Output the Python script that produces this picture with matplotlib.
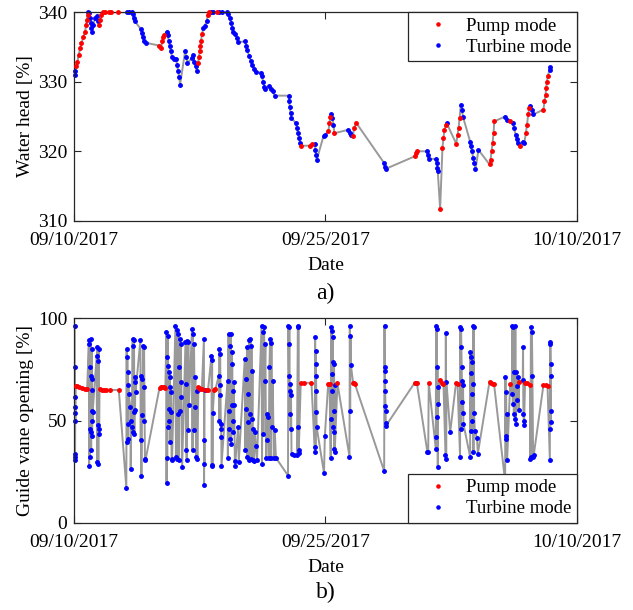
import numpy as np
import matplotlib
matplotlib.use("Agg")
import matplotlib.pyplot as plt
import matplotlib.dates as mdates
from datetime import datetime

# Andmed: päevad alates 09/10/2017, väärtus, režiim (P = pump, T = turbiin)
algus = datetime(2017, 9, 10)

# a) Water head [%]
paevad_a = [0.04, 0.04, 0.12, 0.20, 0.28, 0.36, 0.44, 0.56, 0.66, 0.72, 0.76, 0.82,
            0.86, 0.92, 0.96, 1.00, 1.03, 1.07, 1.15, 1.25, 1.35, 1.43,
            1.49, 1.55, 1.61, 1.71, 1.85, 2.11, 2.19, 2.65,
            3.14, 3.30, 3.44, 3.50, 3.56, 3.62, 3.98, 4.04, 4.10, 4.18, 4.28,
            5.09, 5.19, 5.27, 5.33, 5.39,
            5.53, 5.59, 5.65, 5.71, 5.77, 5.85, 5.97, 6.09, 6.15, 6.21, 6.27, 6.33,
            6.63, 6.69, 6.77, 7.04, 7.12, 7.18, 7.26, 7.32,
            7.40, 7.46, 7.50, 7.54, 7.58, 7.64,
            7.72, 7.80, 7.92, 7.98, 8.04, 8.16, 8.32, 8.52, 8.64,
            8.82, 9.11, 9.19, 9.29, 9.37, 9.45, 9.51, 9.61, 9.71, 9.81,
            10.21, 10.27, 10.35, 10.45, 10.55, 10.65, 10.77, 10.87,
            11.14, 11.22, 11.28, 11.36, 11.42, 11.66, 11.76, 11.86, 11.98,
            12.80, 12.84, 12.88, 12.92, 12.97, 13.25, 13.31, 13.37, 13.43, 13.49,
            13.55, 14.09, 14.21,
            14.37, 14.41, 14.45, 14.49, 14.89, 15.00,
            15.18, 15.24, 15.30, 15.36, 15.42, 15.48, 15.54,
            16.38, 16.48, 16.56, 16.64, 16.72, 16.84,
            18.51, 18.57, 18.63, 20.36, 20.42, 20.46, 21.06, 21.10, 21.16,
            21.61, 21.65, 21.69, 21.71, 21.85, 21.99, 22.05, 22.11, 22.19, 22.25,
            22.81, 22.89, 22.95, 23.01, 23.09, 23.15, 23.21, 23.64, 23.68, 23.74,
            23.84, 23.90, 23.96, 24.14, 24.80, 24.86, 24.92, 24.98, 25.04, 25.08,
            25.73, 25.83, 26.03, 26.19, 26.27, 26.35, 26.43, 26.47, 26.59,
            26.79, 26.87, 26.97, 27.03, 27.11, 27.17, 27.23, 27.32, 27.42,
            28.02, 28.08, 28.14, 28.18, 28.22, 28.28, 28.38, 28.42]
nivel_a = [331.0, 331.5, 332.2, 332.9, 333.9, 334.8, 335.5, 336.5, 337.2, 338.2, 338.9, 339.6,
           340.0, 339.9, 339.1, 338.4, 337.7, 337.2, 338.2, 339.1, 339.4, 338.7,
           338.2, 338.9, 339.6, 340.0, 340.0, 340.0, 340.0, 340.0,
           340.0, 340.0, 340.0, 339.8, 339.1, 338.7, 337.6, 337.0, 336.4, 335.9, 335.6,
           335.2, 334.8, 335.8, 336.5, 336.7,
           337.2, 336.7, 335.9, 335.1, 334.4, 333.6, 333.3, 333.2, 332.4, 331.6, 330.7, 329.6,
           334.4, 333.6, 332.7, 333.4, 333.9, 332.9, 332.2, 331.5,
           332.7, 333.6, 334.4, 335.1, 335.9, 336.9,
           337.7, 338.0, 338.8, 339.6, 340.0, 340.0, 340.0, 340.0, 340.0,
           340.0, 340.0, 339.8, 339.1, 338.5, 337.7, 337.1, 336.9, 336.3, 335.7,
           335.8, 335.2, 334.5, 333.7, 333.0, 332.4, 331.8, 331.4,
           331.3, 330.8, 330.0, 329.3, 328.9, 329.4, 329.0, 328.6, 328.0,
           328.0, 327.2, 326.4, 325.5, 324.8, 324.0, 323.3, 322.6, 321.9, 321.2,
           320.8, 320.8, 321.0,
           321.0, 320.2, 319.5, 318.8, 322.2, 322.4,
           322.9, 324.0, 324.9, 325.4, 324.8, 323.8, 322.6,
           323.1, 322.6, 322.4, 322.2, 323.3, 324.1,
           318.3, 317.8, 317.5, 319.3, 319.8, 320.0, 320.0, 319.5, 318.9,
           318.9, 318.3, 317.6, 317.1, 311.7, 320.5, 321.9, 323.1, 323.8, 324.0,
           321.1, 322.4, 323.3, 324.8, 326.7, 326.0, 325.0, 321.4, 320.7, 320.0,
           319.0, 318.3, 317.4, 320.2, 318.1, 318.8, 320.0, 321.2, 322.6, 324.3,
           325.0, 324.5, 324.3, 324.1, 323.3, 322.4, 321.7, 321.2, 320.7,
           321.4, 321.2, 322.6, 323.8, 325.3, 326.2, 326.5, 326.0, 325.3,
           326.0, 327.2, 328.1, 329.1, 330.0, 330.8, 331.7, 332.1]
modo_a = list("TTPPPPPPPPPP" "TTTTTTTTTT" "PPPPPPPP" "TTTTTTTTTTT" "PPPPP"
              "TTTTTTTTTTTT" "TTTTTTTT" "PPPPPP" "TTTPPTTPT" "TTTTTTTTTT"
              "TTTTTTTT" "TTTTTTTTT" "TTTTTTTTTT" "PPP" "TTTTTT" "PPPTTTP"
              "TTTPPP" "TTTPPPTTT" "TTTTPPPPPT" "PPPPTTTTTT" "TTTTPPPPPP"
              "TTPTTTTTP" "TTPPPPTTT" "PPPPPPTT")

# b) Guide vane opening [%]
paevad_b = [0.04, 0.04, 0.05, 0.05, 0.06, 0.06, 0.07, 0.07, 0.08,
            0.10, 0.18, 0.32, 0.48, 0.64, 0.78,
            0.88, 0.90, 0.92, 0.94, 0.96, 0.98, 1.00, 1.02, 1.03, 1.04, 1.05, 1.06, 1.07, 1.08, 1.09, 1.10, 1.11,
            1.35, 1.37, 1.39, 1.41, 1.43, 1.45, 1.47, 1.49, 1.50,
            1.52, 1.65, 1.78, 1.92, 2.17, 2.67,
            3.12, 3.14, 3.16, 3.18, 3.20, 3.21, 3.22, 3.24, 3.26,
            3.36, 3.38, 3.42, 3.45, 3.50, 3.52, 3.54, 3.56, 3.58, 3.60, 3.62, 3.64, 3.66, 3.67,
            3.96, 3.98, 4.00, 4.02, 4.05, 4.08, 4.12, 4.15, 4.18, 4.20, 4.23, 4.26,
            5.10, 5.18, 5.25, 5.35, 5.45,
            5.51, 5.52, 5.54, 5.56, 5.58, 5.60, 5.62, 5.64, 5.66, 5.68, 5.70, 5.72, 5.74, 5.76, 5.79, 5.82, 5.85,
            6.05, 6.08, 6.12, 6.15, 6.18, 6.20, 6.24, 6.27, 6.30, 6.33, 6.36, 6.38, 6.40, 6.45,
            6.65, 6.68, 6.70, 6.72, 6.76, 6.79, 6.82, 6.85,
            7.04, 7.07, 7.10, 7.13, 7.16, 7.20, 7.24, 7.28, 7.32, 7.36,
            7.42, 7.48, 7.54, 7.63,
            7.75, 7.76, 7.77, 7.78, 7.79,
            7.90, 8.00,
            8.20, 8.22, 8.24, 8.26, 8.28,
            8.36, 8.44,
            8.64, 8.66, 8.68, 8.70, 8.72, 8.74, 8.76, 8.78, 8.79, 8.80,
            9.16, 9.18, 9.22, 9.24, 9.27, 9.30, 9.33, 9.36, 9.38, 9.40, 9.42, 9.44, 9.46, 9.48, 9.50, 9.52, 9.56, 9.60, 9.63,
            9.79, 9.83,
            10.19, 10.22, 10.26, 10.29, 10.32, 10.35, 10.38, 10.41, 10.44, 10.47, 10.50, 10.53, 10.56, 10.59, 10.62,
            10.65, 10.68, 10.71, 10.74, 10.80, 10.85, 10.92,
            11.19, 11.22, 11.26, 11.30, 11.34, 11.38, 11.42, 11.46, 11.50, 11.54, 11.58, 11.62, 11.66, 11.70, 11.74,
            11.78, 11.82, 11.86, 11.92, 11.98, 12.05,
            12.77, 12.79, 12.81, 12.83, 12.85, 12.87, 12.89, 12.91, 12.93, 12.95, 12.98,
            13.10, 13.30, 13.36, 13.38, 13.39, 13.40, 13.41,
            13.53, 13.70, 14.17,
            14.37, 14.39, 14.41, 14.43, 14.44, 14.45, 14.46, 14.47, 14.48,
            14.92, 14.97,
            15.17, 15.25,
            15.32, 15.34, 15.36, 15.38, 15.40, 15.42, 15.44, 15.46, 15.48, 15.50, 15.52, 15.53, 15.54, 15.55, 15.56,
            15.72,
            16.44, 16.46, 16.48, 16.50, 16.52,
            16.66, 16.72, 16.76,
            18.51, 18.53, 18.54, 18.55, 18.56, 18.57, 18.58, 18.59, 18.60, 18.61,
            20.34, 20.40, 20.46,
            21.09, 21.14, 21.17,
            21.59, 21.61, 21.63, 21.65, 21.67, 21.69, 21.71, 21.73, 21.75,
            21.83, 21.95, 22.05,
            22.17, 22.19, 22.21, 22.23,
            22.45,
            22.80, 22.89,
            23.04, 23.06, 23.08, 23.10, 23.12, 23.14, 23.16, 23.18, 23.20, 23.22, 23.24,
            23.64, 23.66, 23.68, 23.70, 23.72, 23.74, 23.76, 23.78, 23.80, 23.82, 23.84, 23.86, 23.88, 23.92, 24.05, 24.10,
            24.80, 24.90, 25.00, 25.07,
            25.73, 25.75, 25.77, 25.79, 25.81, 25.83, 25.85,
            26.03,
            26.13, 26.16, 26.19, 26.22, 26.25, 26.28, 26.31, 26.34, 26.37, 26.40, 26.43, 26.46, 26.50, 26.53,
            26.57,
            26.78, 26.80, 26.82, 26.84, 26.86,
            26.92, 27.05, 27.22,
            27.24, 27.27, 27.30, 27.33, 27.36, 27.40, 27.44,
            28.02, 28.14, 28.26,
            28.40, 28.41, 28.42, 28.43, 28.44, 28.45, 28.46, 28.47]
ava_b = [96.3, 30.5, 76.4, 32.4, 61.5, 33.7, 56.6, 49.7, 53.6,
         66.7, 66.7, 66.3, 66.0, 65.7, 65.4,
         87.5, 28.0, 89.2, 32.4, 76.1, 45.9, 90.0, 35.4, 72.0, 44.3, 85.0, 54.9, 70.4, 42.7, 65.0, 50.0, 54.1,
         81.8, 29.7, 85.9, 47.6, 79.4, 28.9, 85.1, 45.9, 43.5,
         65.4, 65.2, 65.0, 65.0, 65.0, 65.0,
         17.1, 85.1, 39.4, 81.0, 48.4, 73.7, 41.1, 67.2, 63.0,
         56.6, 26.4, 50.0, 46.8, 90.0, 44.3, 86.7, 54.1, 89.5, 43.5, 71.2, 55.0, 68.8, 63.9,
         89.5, 40.3, 72.0, 22.8, 70.4, 52.5, 86.7, 50.0, 85.9, 66.3, 31.3, 30.5,
         66.0, 66.3, 66.5, 66.3, 66.0,
         93.2, 19.4, 81.0, 31.8, 91.6, 46.8, 76.9, 55.7, 74.0, 50.0, 71.2, 39.4, 66.3, 54.0, 63.9, 30.5, 31.3,
         96.5, 32.1, 94.1, 31.3, 92.4, 53.3, 76.1, 30.5, 90.0, 54.9, 87.5, 61.4, 68.8, 27.2,
         88.3, 35.4, 68.0, 30.5, 89.0, 45.2, 88.3, 57.4,
         94.9, 35.4, 92.4, 45.2, 87.5, 56.6, 71.2, 32.0, 64.7, 31.3,
         66.3, 66.0, 65.5, 65.5,
         90.0, 18.7, 40.3, 28.9, 65.0,
         65.2, 65.2,
         81.8, 28.5, 79.7, 28.0, 53.8,
         65.2, 65.4,
         72.0, 50.0, 85.1, 67.2, 82.6, 62.3, 48.4, 46.0, 41.9, 28.0,
         69.6, 31.8, 92.4, 45.9, 54.9, 86.7, 41.1, 92.4, 38.6, 83.5, 57.4, 77.8, 44.3, 64.7, 50.0, 69.0, 57.4, 28.0, 30.0,
         46.8, 29.6,
         80.2, 35.4, 70.4, 55.7, 85.9, 32.1, 63.1, 49.2, 89.2, 30.5, 53.3, 90.0, 31.0, 86.7, 51.0,
         74.5, 30.5, 46.0, 30.0, 44.3, 37.8, 30.5,
         96.5, 28.9, 93.2, 43.5, 96.0, 69.6, 87.5, 31.8, 53.3, 40.3, 52.0, 31.8, 76.1, 90.0, 31.5,
         88.0, 46.8, 69.6, 31.8, 45.2, 31.8,
         23.1, 96.5, 87.5, 72.0, 96.0, 64.7, 53.3, 68.0, 46.0, 62.3, 33.7,
         33.0, 33.0, 96.5, 46.8, 96.0, 35.4, 34.0,
         68.5, 68.5, 68.5,
         34.6, 90.8, 37.0, 84.3, 77.8, 72.0, 64.7, 54.1, 46.8,
         24.3, 42.7,
         68.1, 68.0,
         31.8, 96.0, 50.9, 93.7, 72.9, 64.7, 91.1, 46.8, 78.6, 44.3, 77.8, 54.9, 36.2, 67.2, 34.5,
         68.3,
         32.4, 96.5, 54.6, 91.6, 77.3,
         68.3, 68.3, 68.0,
         25.3, 96.5, 76.1, 74.5, 69.6, 64.4, 56.9, 54.6, 48.7, 47.4,
         68.6, 68.6, 68.4,
         34.6, 34.6, 68.5,
         36.2, 96.5, 42.2, 94.9, 51.7, 76.1, 27.2, 66.3, 57.9,
         69.9, 68.5, 67.9,
         33.4, 92.7, 31.3, 68.8,
         44.3,
         68.5, 68.0,
         32.1, 96.0, 46.0, 95.0, 85.9, 76.4, 59.0, 69.6, 53.6, 67.2, 48.4,
         32.4, 83.5, 44.8, 81.0, 73.2, 50.0, 78.6, 63.1, 68.0, 96.5, 34.6, 96.0, 53.8, 44.8, 41.6, 33.7,
         69.1, 68.5, 68.0, 67.8,
         20.2, 71.2, 42.7, 63.9, 41.1, 53.3, 30.8,
         68.0,
         63.1, 96.5, 58.2, 96.0, 53.3, 73.7, 50.9, 96.5, 48.4, 73.9, 67.0, 60.0, 71.2, 55.0,
         68.8,
         69.9, 85.9, 53.3, 50.0, 47.6,
         68.5, 68.2, 67.5,
         31.3, 96.0, 32.0, 93.2, 72.0, 32.4, 33.2,
         67.6, 67.2, 66.7,
         30.5, 88.3, 46.0, 87.5, 77.8, 72.0, 54.9, 49.2]
modo_b = list("T" * 9 + "P" * 6 + "T" * 17 + "T" * 9 + "P" * 6 + "T" * 9 + "T" * 14
              + "T" * 12 + "P" * 5 + "T" * 17 + "T" * 14 + "T" * 8 + "T" * 10 + "P" * 4
              + "T" * 5 + "P" * 2 + "T" * 5 + "P" * 2 + "T" * 10 + "T" * 19 + "T" * 2
              + "T" * 22 + "T" * 21 + "T" * 11 + "T" * 7 + "P" * 3 + "T" * 9 + "T" * 2
              + "P" * 2 + "T" * 15 + "P" + "T" * 5 + "P" * 3 + "T" * 10 + "P" * 3
              + "TTP" + "T" * 9 + "P" * 3 + "T" * 4 + "T" + "P" * 2 + "T" * 11 + "T" * 16
              + "P" * 4 + "T" * 7 + "P" + "T" * 14 + "P" + "T" * 5 + "P" * 3 + "T" * 7
              + "P" * 3 + "T" * 8)

kuupaevad = ["09/10/2017", "09/25/2017", "10/10/2017"]

plt.rcParams["font.family"] = ["Liberation Serif", "DejaVu Serif"]
plt.rcParams["font.size"] = 14


def joonista(ax, paevad, vaartused, modo, ylim, yticks, ylabel, legend_loc):
    t = mdates.date2num(algus) + np.array(paevad)
    v = np.array(vaartused)
    m = np.array(modo)
    ax.plot(t, v, color="#999999", lw=1.4, zorder=1)
    ax.plot(t[m == "P"], v[m == "P"], ".", color="red", ms=5, label="Pump mode",
            zorder=3, clip_on=False)
    ax.plot(t[m == "T"], v[m == "T"], ".", color="blue", ms=5, label="Turbine mode",
            zorder=2, clip_on=False)
    ticks = [mdates.datestr2num(k) for k in kuupaevad]
    ax.set_xlim(ticks[0], ticks[-1])
    ax.set_xticks(ticks)
    ax.set_xticklabels(kuupaevad)
    ax.set_ylim(*ylim)
    ax.set_yticks(yticks)
    ax.set_xlabel("Date", labelpad=6)
    ax.set_ylabel(ylabel, labelpad=3)
    ax.tick_params(direction="in", top=True, right=True, length=5, width=0.8,
                   color="#262626", labelsize=14)
    ax.tick_params(axis="x", pad=8)
    ax.tick_params(axis="y", pad=5)
    for s in ax.spines.values():
        s.set_color("#262626")
        s.set_linewidth(0.9)
    leg = ax.legend(loc=legend_loc, fancybox=False, framealpha=1, edgecolor="#262626",
                    borderaxespad=0, handletextpad=0.2, markerscale=0.9, fontsize=13.5,
                    borderpad=0.3, labelspacing=0.2, handlelength=2.6)
    leg.get_frame().set_linewidth(0.9)


fig = plt.figure(figsize=(6.33, 6.10), dpi=100)
ax1 = fig.add_axes([0.117, 0.638, 0.794, 0.342])
ax2 = fig.add_axes([0.117, 0.143, 0.794, 0.335])

joonista(ax1, paevad_a, nivel_a, modo_a, (310, 340), [310, 320, 330, 340],
         "Water head [%]", "upper right")
joonista(ax2, paevad_b, ava_b, modo_b, (0, 100), [0, 50, 100],
         "Guide vane opening [%]", "lower right")

fig.text(0.514, 0.519, "a)", ha="center", va="center", fontsize=17)
fig.text(0.514, 0.028, "b)", ha="center", va="center", fontsize=17)

fig.savefig("out.png", dpi=100)
